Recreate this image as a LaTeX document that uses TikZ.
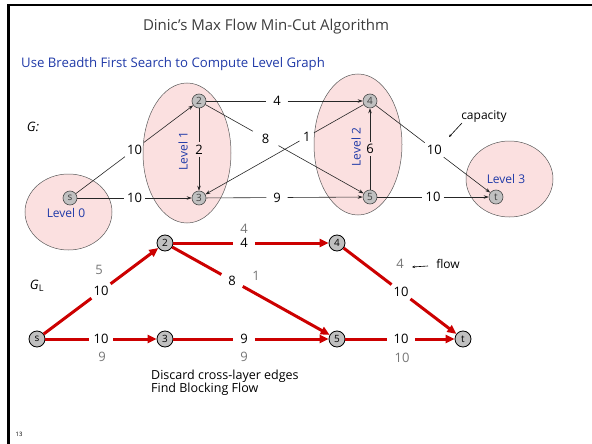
\documentclass[tikz,border=0pt]{standalone}
\usepackage{fontspec}
\setmainfont{Open Sans}
\usetikzlibrary{arrows.meta,shapes.geometric,calc}

\definecolor{levelfill}{RGB}{251,224,224}
\definecolor{levelblue}{RGB}{32,58,168}
\definecolor{flowred}{RGB}{204,0,0}
\definecolor{nodegray}{RGB}{192,192,192}
\definecolor{flowgray}{RGB}{118,118,118}
\definecolor{titlegray}{RGB}{60,60,60}

\newcommand{\fs}[1]{\fontsize{#1}{#1}\selectfont}

\begin{document}
\begin{tikzpicture}[x=1pt,y=-1pt,
  levelshape/.style={ellipse, draw=black!65, line width=0.5pt, fill=levelfill, inner sep=0},
  levellabel/.style={text=levelblue, font=\fs{12}},
  vtx/.style={circle, draw=black!70, line width=0.6pt, fill=nodegray, minimum size=14pt, inner sep=0, font=\fs{10}, text=black!75},
  fvtx/.style={circle, draw=black, line width=0.8pt, fill=nodegray, minimum size=16pt, inner sep=0, font=\fs{10}},
  caplab/.style={minimum width=21pt, minimum height=14pt, inner sep=0, font=\fs{13}},
  flowlab/.style={text=flowgray, font=\fs{13}},
  thinedge/.style={line width=0.6pt, draw=black!85},
  thinarrow/.style={thinedge, -{Stealth[length=5pt,width=3.5pt]}},
  rededge/.style={line width=3pt, draw=flowred},
  redarrow/.style={rededge, -{Triangle[length=9pt,width=8pt]}},
  notearrow/.style={line width=0.6pt, -{Stealth[length=3pt,width=2.5pt]}},
  plaintext/.style={font=\fs{12.5}, align=left, inner sep=0}
]
\useasboundingbox (0,0) rectangle (592,444);

% slide frame
\draw[line width=2.5pt] (592,5) -- (8.5,5) -- (8.5,444);

% headings
\node[text=titlegray, font=\fs{15}] (title) at (266,27) {Dinic's Max Flow Min-Cut Algorithm};
\node[text=levelblue, font=\fs{13.2}, anchor=west, inner sep=0] (subtitle) at (21,64) {Use Breadth First Search to Compute Level Graph};

% level sets of the BFS
\node[levelshape, minimum width=87pt, minimum height=76pt] (lev0) at (68.5,212) {};
\node[levelshape, minimum width=88pt, minimum height=140pt] (lev1) at (187,153) {};
\node[levelshape, minimum width=88pt, minimum height=141pt] (lev2) at (358,144.5) {};
\node[levelshape, minimum width=87pt, minimum height=76pt] (lev3) at (509.5,179) {};

\node[levellabel] (lev0txt) at (66,213) {Level 0};
\node[levellabel, rotate=90] (lev1txt) at (183,151) {Level 1};
\node[levellabel, rotate=90] (lev2txt) at (356,147) {Level 2};
\node[levellabel] (lev3txt) at (506,179) {Level 3};

\node[font=\fs{13}\itshape] (gname) at (33,127) {G:};

% original network G
\coordinate (ps) at (70,198);
\coordinate (p2) at (199,101);
\coordinate (p3) at (199,198);
\coordinate (p4) at (370,101);
\coordinate (p5) at (370,197);
\coordinate (pt) at (496,197);

\node[caplab] (cs2) at ($(ps)!0.5!(p2)$) {10};
\node[caplab] (cs3) at ($(ps)!0.5!(p3)$) {10};
\node[caplab, minimum width=12pt] (c23) at ($(p2)!0.5!(p3)$) {2};
\node[caplab] (c24) at ($(p2)!0.456!(p4)$) {4};
\node[caplab, minimum width=26pt] (c25) at ($(p2)!0.39!(p5)$) {8};
\node[caplab, minimum width=14pt] (c43) at ($(p4)!0.37!(p3)$) {1};
\node[caplab] (c35) at ($(p3)!0.456!(p5)$) {9};
\node[caplab, minimum width=12pt] (c54) at ($(p5)!0.5!(p4)$) {6};
\node[caplab] (c4t) at ($(p4)!0.51!(pt)$) {10};
\node[caplab] (c5t) at ($(p5)!0.5!(pt)$) {10};

\node[vtx] (s) at (ps) {s};
\node[vtx] (v2) at (p2) {2};
\node[vtx] (v3) at (p3) {3};
\node[vtx] (v4) at (p4) {4};
\node[vtx] (v5) at (p5) {5};
\node[vtx] (t) at (pt) {t};

\draw[thinedge] (s) -- (cs2);  \draw[thinarrow] (cs2) -- (v2);
\draw[thinedge] (s) -- (cs3);  \draw[thinarrow] (cs3) -- (v3);
\draw[thinedge] (v2) -- (c23); \draw[thinarrow] (c23) -- (v3);
\draw[thinedge] (v2) -- (c24); \draw[thinarrow] (c24) -- (v4);
\draw[thinedge] (v2) -- (c25); \draw[thinarrow] (c25) -- (v5);
\draw[thinedge] (v4) -- (c43); \draw[thinarrow] (c43) -- (v3);
\draw[thinedge] (v3) -- (c35); \draw[thinarrow] (c35) -- (v5);
\draw[thinedge] (v5) -- (c54); \draw[thinarrow] (c54) -- (v4);
\draw[thinedge] (v4) -- (c4t); \draw[thinarrow] (c4t) -- (t);
\draw[thinedge] (v5) -- (c5t); \draw[thinarrow] (c5t) -- (t);

\node[font=\fs{12}] (captxt) at (484,117) {capacity};
\coordinate (capa) at (462,123);
\coordinate (capb) at (449,137);
\draw[notearrow] (capa) -- (capb);

% level graph G_L with a blocking flow
\node[font=\fs{13}] (glname) at (37,286) {\itshape G\/$_{\mathrm{L}}$};

\coordinate (qs) at (37,339);
\coordinate (q2) at (165,243);
\coordinate (q3) at (165,339);
\coordinate (q4) at (337,243);
\coordinate (q5) at (337,339);
\coordinate (qt) at (463,339);

\node[caplab] (ds2) at ($(qs)!0.5!(q2)$) {10};
\node[caplab, minimum width=24pt] (ds3) at ($(qs)!0.5!(q3)$) {10};
\node[caplab] (d24) at ($(q2)!0.46!(q4)$) {4};
\node[caplab] (d25) at ($(q2)!0.39!(q5)$) {8};
\node[caplab] (d35) at ($(q3)!0.46!(q5)$) {9};
\node[caplab] (d4t) at ($(q4)!0.508!(qt)$) {10};
\node[caplab, minimum width=28pt] (d5t) at ($(q5)!0.508!(qt)$) {10};

\node[fvtx] (fs) at (qs) {s};
\node[fvtx] (f2) at (q2) {2};
\node[fvtx] (f3) at (q3) {3};
\node[fvtx] (f4) at (q4) {4};
\node[fvtx] (f5) at (q5) {5};
\node[fvtx] (ft) at (qt) {t};

\draw[rededge] (fs) -- (ds2); \draw[redarrow] (ds2) -- (f2);
\draw[rededge] (fs) -- (ds3); \draw[redarrow] (ds3) -- (f3);
\draw[rededge] (f2) -- (d24); \draw[redarrow] (d24) -- (f4);
\draw[rededge] (f2) -- (d25); \draw[redarrow] (d25) -- (f5);
\draw[rededge] (f3) -- (d35); \draw[redarrow] (d35) -- (f5);
\draw[rededge] (f4) -- (d4t); \draw[redarrow] (d4t) -- (ft);
\draw[rededge] (f5) -- (d5t); \draw[redarrow] (d5t) -- (ft);

% flow values
\node[flowlab] (g2) at (99,270) {5};
\node[flowlab] (g3) at (102,357) {9};
\node[flowlab] (g24) at (244,229) {4};
\node[flowlab] (g25) at (256,276) {1};
\node[flowlab] (g35) at (244,357) {9};
\node[flowlab] (g4t) at (400,264) {4};
\node[flowlab] (g5t) at (402,358) {10};

\node[font=\fs{12}] (flowtxt) at (448,264) {flow};
\coordinate (flwa) at (428,266);
\coordinate (flwb) at (412,267);
\draw[notearrow] (flwa) -- (flwb);

\node[plaintext, anchor=north west] (note) at (151,370) {Discard cross-layer edges\\Find Blocking Flow};

\node[font=\fs{6}] (pagenum) at (19,434) {13};
\end{tikzpicture}
\end{document}
